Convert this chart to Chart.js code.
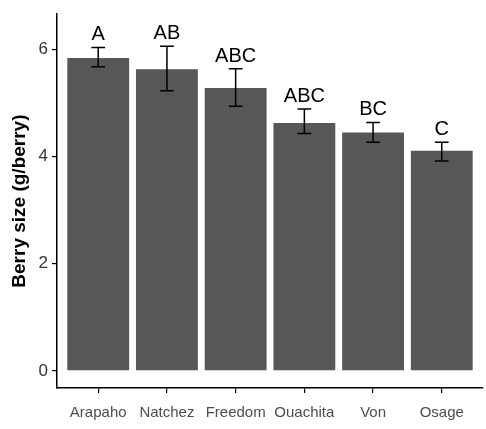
<!DOCTYPE html>
<html>
<head>
<meta charset="utf-8">
<script src="https://cdn.jsdelivr.net/npm/chart.js@4"></script>
<style>
html,body{margin:0;padding:0;background:#fff;}
#wrap{width:486px;height:429px;}
</style>
</head>
<body>
<div id="wrap"><canvas id="c" width="486" height="429"></canvas></div>
<script>
const categories = ['Arapaho', 'Natchez', 'Freedom', 'Ouachita', 'Von', 'Osage'];
const berrySize = [5.84, 5.63, 5.28, 4.63, 4.45, 4.11];
const errLow = [5.68, 5.23, 4.94, 4.43, 4.27, 3.92];
const errHigh = [6.04, 6.06, 5.64, 4.89, 4.64, 4.27];
const letters = ['A', 'AB', 'ABC', 'ABC', 'BC', 'C'];
const yTicks = [0, 2, 4, 6];

const FONT = "'Liberation Sans', Arial, Helvetica, sans-serif";

const annotPlugin = {
  id: 'annot',
  afterDatasetsDraw(chart) {
    const ctx = chart.ctx;
    const xs = chart.scales.x, ys = chart.scales.y;
    ctx.save();
    ctx.strokeStyle = '#000';
    ctx.lineWidth = 1.5;
    for (let i = 0; i < categories.length; i++) {
      const x = xs.getPixelForValue(i + 1);
      const yH = ys.getPixelForValue(errHigh[i]);
      const yL = ys.getPixelForValue(errLow[i]);
      const half = (xs.getPixelForValue(1.1) - xs.getPixelForValue(1)) ;
      ctx.beginPath();
      ctx.moveTo(x, yH); ctx.lineTo(x, yL);
      ctx.moveTo(x - half, yH); ctx.lineTo(x + half, yH);
      ctx.moveTo(x - half, yL); ctx.lineTo(x + half, yL);
      ctx.stroke();
      ctx.fillStyle = '#000';
      ctx.font = '20px ' + FONT;
      ctx.textAlign = 'center';
      ctx.textBaseline = 'alphabetic';
      ctx.fillText(letters[i], x, yH - 7);
    }
    ctx.restore();
  }
};

new Chart(document.getElementById('c'), {
  type: 'bar',
  data: {
    datasets: [{
      data: berrySize.map((v, i) => ({ x: i + 1, y: v })),
      backgroundColor: '#575757',
      borderWidth: 0,
      categoryPercentage: 0.9,
      barPercentage: 1
    }]
  },
  options: {
    responsive: false,
    animation: false,
    layout: { padding: { top: 12, right: 3, left: 0, bottom: 0 } },
    plugins: { legend: { display: false }, tooltip: { enabled: false } },
    scales: {
      x: {
        type: 'linear',
        offset: false,
        min: 0.4,
        max: 6.6,
        afterBuildTicks: (axis) => { axis.ticks = categories.map((c, i) => ({ value: i + 1 })); },
        afterFit: (scale) => { scale.height = 41; },
        grid: { display: true, drawOnChartArea: false, drawTicks: true, tickLength: 5, color: '#000', offset: false, lineWidth: 1.2 },
        border: { display: true, color: '#000', width: 1.5 },
        ticks: {
          autoSkip: false, maxRotation: 0, padding: 11,
          color: '#4d4d4d',
          font: { family: FONT, size: 15 },
          callback: (v) => categories[Math.round(v) - 1] || ''
        }
      },
      y: {
        min: -0.32,
        max: 6.66,
        afterBuildTicks: (axis) => { axis.ticks = yTicks.map(v => ({ value: v })); },
        afterFit: (scale) => { scale.width = 57; },
        grid: { display: true, drawOnChartArea: false, drawTicks: true, tickLength: 5, color: '#000', lineWidth: 1.2 },
        border: { display: true, color: '#000', width: 1.5 },
        ticks: {
          padding: 4,
          color: '#333',
          font: { family: FONT, size: 17 },
          callback: (v) => String(v)
        },
        title: {
          display: true,
          text: 'Berry size (g/berry)',
          color: '#000',
          font: { family: FONT, size: 19, weight: 'bold' },
          padding: { top: 8, bottom: 0 }
        }
      }
    }
  },
  plugins: [annotPlugin]
});
</script>
</body>
</html>
